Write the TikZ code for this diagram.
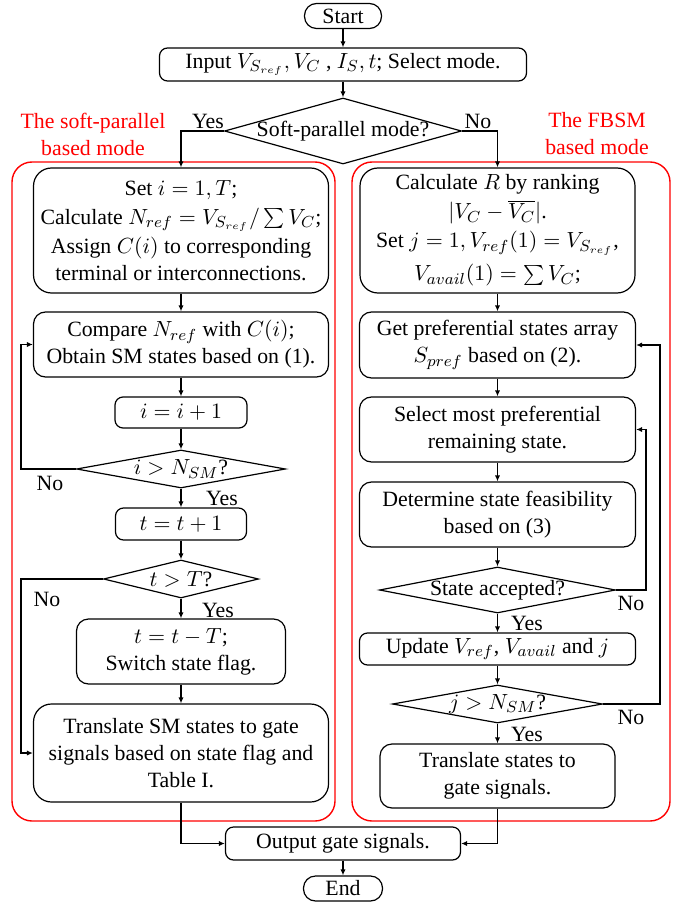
\documentclass[tikz,border=0pt]{standalone}
\usepackage{fontspec}
\setmainfont{Liberation Serif}
\usetikzlibrary{arrows.meta,shapes.geometric}
\definecolor{modered}{HTML}{FF0000}
\tikzset{
  >={Latex[length=3pt,width=2.6pt]},
  font=\fontsize{10.9}{13.5}\selectfont,
  term/.style={draw,line width=0.6pt,rounded corners=6pt,inner sep=0pt,
               minimum width=38.5pt,minimum height=12.5pt},
  proc/.style={draw,line width=0.6pt,rounded corners=4pt,inner sep=1pt,align=center},
  bigproc/.style={proc,rounded corners=9pt},
  cond/.style={draw,line width=0.6pt,diamond,inner sep=-2pt,align=center},
  flow/.style={->,line width=0.6pt},
  ans/.style={inner sep=0pt},
  group/.style={draw=modered,line width=0.7pt,rounded corners=10pt},
  grouplbl/.style={text=modered,align=center},
}
\begin{document}
\begin{tikzpicture}[x=0.5pt,y=-0.5pt]
  \useasboundingbox (0,0) rectangle (685,903);

  % the two mode containers
  \draw[group] (12,162) rectangle (335,821);
  \draw[group] (352,162) rectangle (670,821);
  \node[grouplbl] (lblL) at (93,134) {The soft-parallel\\based mode};
  \node[grouplbl] (lblR) at (597,134) {The FBSM\\based mode};

  % common part
  \node[term] (start) at (343,16) {Start};
  \node[proc,minimum width=183.5pt,minimum height=16.5pt] (input) at (343,64.5)
    {Input $V_{S_{ref}}, V_C$ , $I_S, t$; Select mode.};
  \node[cond,aspect=3.6,minimum width=118.5pt,minimum height=33pt] (mode) at (343,131)
    {Soft-parallel mode?};
  \node[ans] (yesMode) at (208,121) {Yes};
  \node[ans] (noMode) at (478,121) {No};

  % soft-parallel based mode
  \node[bigproc,minimum width=147.5pt,minimum height=62.5pt] (setup) at (181,230.5)
    {Set $i=1, T$;\\[1pt]Calculate $N_{ref}=V_{S_{ref}}/\sum V_C$;\\[1pt]
     Assign $C(i)$ to corresponding\\terminal or interconnections.};
  \node[proc,rounded corners=6pt,minimum width=147.5pt,minimum height=32.5pt] (compare) at (181,344.5)
    {Compare $N_{ref}$ with $C(i)$;\\Obtain SM states based on (1).};
  \node[proc,minimum width=66pt,minimum height=15.5pt] (incr) at (181,412.5) {$i=i+1$};
  \node[cond,aspect=5.5,minimum width=104.5pt,minimum height=19pt] (checki) at (181,469)
    {$i>N_{SM}$?};
  \node[ans] (noI) at (50,483) {No};
  \node[ans] (yesI) at (222,498) {Yes};
  \node[proc,minimum width=65.5pt,minimum height=16pt] (tincr) at (181,524) {$t=t+1$};
  \node[cond,aspect=4.1,minimum width=77.5pt,minimum height=19pt] (checkt) at (181,579)
    {$t>T$?};
  \node[ans] (noT) at (47,599) {No};
  \node[ans] (yesT) at (218,610) {Yes};
  \node[proc,rounded corners=6pt,minimum width=104.5pt,minimum height=32.5pt] (tsub) at (181,651.5)
    {$t=t-T$;\\Switch state flag.};
  \node[bigproc,minimum width=147.5pt,minimum height=49pt] (transL) at (181,753)
    {Translate SM states to gate\\signals based on state flag and\\Table I.};
  \coordinate (loopI) at (21,469);
  \coordinate (loopT) at (21,579);

  % FBSM based mode
  \node[bigproc,minimum width=137.5pt,minimum height=62.5pt] (rank) at (497.5,230.5)
    {Calculate $R$ by ranking\\[1pt]$|V_C-\overline{V_C}|$.\\[1pt]
     Set $j=1, V_{ref}(1)=V_{S_{ref}}$,\\[3pt]$V_{avail}(1)=\sum V_C$;};
  \node[proc,rounded corners=6pt,minimum width=138pt,minimum height=33pt] (pref) at (497.5,345)
    {Get preferential states array\\$S_{pref}$ based on (2).};
  \node[proc,rounded corners=6pt,minimum width=138pt,minimum height=32.5pt] (select) at (497.5,429.5)
    {Select most preferential\\remaining state.};
  \node[proc,rounded corners=6pt,minimum width=138pt,minimum height=32.5pt] (feas) at (497.5,514.5)
    {Determine state feasibility\\based on (3)};
  \node[cond,aspect=5.1,minimum width=118pt,minimum height=23pt] (accept) at (497.5,590)
    {State accepted?};
  \node[ans] (noAcc) at (631,603) {No};
  \node[ans] (yesAcc) at (527,623) {Yes};
  \node[proc,minimum width=138pt,minimum height=16pt] (update) at (497.5,649)
    {Update $V_{ref}$, $V_{avail}$ and $j$};
  \node[cond,aspect=5.5,minimum width=105pt,minimum height=19pt] (checkj) at (497.5,704)
    {$j>N_{SM}$?};
  \node[ans] (noJ) at (631,717) {No};
  \node[ans] (yesJ) at (527,734) {Yes};
  \node[proc,rounded corners=6pt,minimum width=117.5pt,minimum height=32pt] (transR) at (497.5,776)
    {Translate states to\\gate signals.};
  \coordinate (loopAcc) at (646,590);
  \coordinate (loopJ) at (660,704);

  % end
  \node[proc,minimum width=117.5pt,minimum height=16.5pt] (output) at (343,843.5)
    {Output gate signals.};
  \node[term,minimum width=39.5pt] (end) at (343,888.5) {End};

  % connectors
  \draw[flow] (start) -- (input);
  \draw[flow] (input) -- (mode);
  \draw[flow] (mode.west) -| (setup.north);
  \draw[flow] (mode.east) -| (rank.north);

  \draw[flow] (setup) -- (compare);
  \draw[flow] (compare) -- (incr);
  \draw[flow] (incr) -- (checki);
  \draw[flow] (checki) -- (tincr);
  \draw[flow] (checki.west) -- (loopI) |- (compare.west);
  \draw[flow] (tincr) -- (checkt);
  \draw[flow] (checkt) -- (tsub);
  \draw[flow] (checkt.west) -- (loopT) |- (transL.west);
  \draw[flow] (tsub) -- (transL);

  \draw[flow] (rank) -- (pref);
  \draw[flow] (pref) -- (select);
  \draw[flow] (select) -- (feas);
  \draw[flow] (feas) -- (accept);
  \draw[flow] (accept) -- (update);
  \draw[flow] (accept.east) -- (loopAcc) |- (select.east);
  \draw[flow] (update) -- (checkj);
  \draw[flow] (checkj) -- (transR);
  \draw[flow] (checkj.east) -- (loopJ) |- (pref.east);

  \draw[flow] (transL.south) |- (output.west);
  \draw[flow] (transR.south) |- (output.east);
  \draw[flow] (output) -- (end);
\end{tikzpicture}
\end{document}
